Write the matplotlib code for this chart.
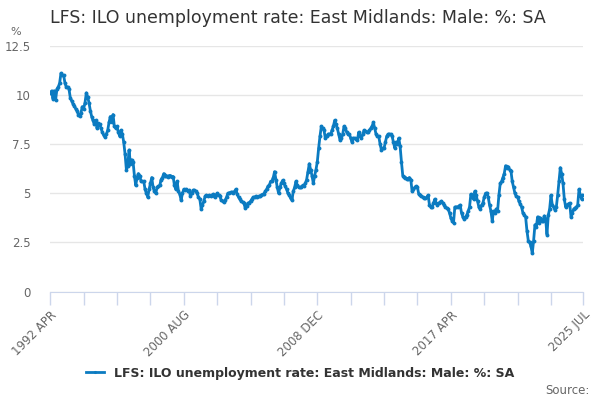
import numpy as np
import pandas as pd
import matplotlib
matplotlib.use("Agg")
import matplotlib.pyplot as plt

# monthly values, one list per calendar year (1992 starts in April, 2025 ends in July)
y1992 = [10.1, 10.2, 9.8, 10.2, 9.75, 10.3, 10.4, 10.6, 11.1]
y1993 = [11.0, 11.0, 10.6, 10.4, 10.4, 10.3, 9.85, 9.7, 9.55, 9.45, 9.3, 9.2]
y1994 = [9.0, 8.95, 9.1, 9.4, 9.3, 9.6, 10.1, 9.9, 9.6, 9.2, 8.9, 8.7]
y1995 = [8.5, 8.7, 8.3, 8.55, 8.5, 8.3, 8.1, 7.95, 7.85, 8.0, 8.2, 8.6]
y1996 = [8.9, 8.6, 9.0, 8.4, 8.3, 8.4, 8.1, 7.9, 8.2, 8.0, 7.6, 7.0]
y1997 = [6.2, 6.4, 7.2, 6.5, 6.7, 6.6, 5.9, 5.4, 5.8, 6.0, 5.9, 5.6]
y1998 = [5.6, 5.6, 5.2, 5.0, 4.8, 5.2, 5.5, 5.8, 5.3, 5.1, 5.0, 5.3]
y1999 = [5.35, 5.4, 5.7, 5.8, 6.0, 5.9, 5.9, 5.85, 5.9, 5.9, 5.85, 5.85]
y2000 = [5.4, 5.2, 5.6, 5.1, 4.95, 4.65, 5.0, 5.2, 5.15, 5.2, 5.1, 5.15]
y2001 = [4.85, 5.0, 5.15, 5.15, 5.1, 5.0, 4.8, 4.7, 4.2, 4.4, 4.6, 4.85]
y2002 = [4.9, 4.85, 4.9, 4.85, 4.9, 4.95, 4.8, 4.9, 5.0, 4.9, 4.85, 4.65]
y2003 = [4.6, 4.55, 4.65, 4.8, 5.0, 5.0, 5.05, 5.05, 5.0, 5.1, 5.2, 4.95]
y2004 = [4.8, 4.7, 4.6, 4.55, 4.5, 4.25, 4.35, 4.5, 4.5, 4.6, 4.7, 4.8]
y2005 = [4.8, 4.85, 4.8, 4.85, 4.85, 4.9, 4.95, 4.95, 5.1, 5.2, 5.35, 5.4]
y2006 = [5.6, 5.6, 5.8, 6.1, 5.7, 5.3, 5.0, 5.3, 5.5, 5.65, 5.5, 5.35]
y2007 = [5.2, 5.0, 4.9, 4.75, 4.65, 5.1, 5.3, 5.6, 5.4, 5.3, 5.3, 5.3]
y2008 = [5.4, 5.35, 5.5, 5.7, 6.1, 6.5, 6.2, 5.9, 5.5, 5.9, 6.2, 6.6]
y2009 = [7.3, 7.9, 8.4, 8.3, 8.2, 7.8, 7.9, 8.0, 8.0, 8.0, 8.2, 8.4]
y2010 = [8.7, 8.5, 8.3, 8.0, 7.7, 7.8, 8.0, 8.4, 8.3, 8.1, 8.0, 8.0]
y2011 = [7.8, 7.6, 7.8, 7.8, 7.75, 7.7, 8.1, 7.9, 7.8, 8.0, 8.2, 8.15]
y2012 = [8.1, 8.1, 8.2, 8.3, 8.4, 8.6, 8.3, 8.0, 7.9, 7.9, 7.5, 7.2]
y2013 = [7.3, 7.3, 7.6, 7.9, 8.0, 8.0, 8.0, 7.9, 7.6, 7.3, 7.6, 7.5]
y2014 = [7.8, 7.4, 6.6, 5.9, 5.85, 5.8, 5.75, 5.75, 5.8, 5.7, 5.1, 5.2]
y2015 = [5.3, 5.35, 5.3, 4.95, 4.9, 4.85, 4.8, 4.75, 4.75, 4.8, 4.9, 4.4]
y2016 = [4.3, 4.3, 4.5, 4.7, 4.5, 4.4, 4.5, 4.55, 4.6, 4.5, 4.4, 4.3]
y2017 = [4.25, 4.2, 4.0, 3.75, 3.6, 3.5, 4.3, 4.3, 4.3, 4.35, 4.4, 4.0]
y2018 = [3.8, 3.7, 3.8, 3.9, 4.1, 4.3, 4.95, 4.8, 4.7, 5.1, 4.9, 4.6]
y2019 = [4.3, 4.2, 4.4, 4.5, 4.8, 5.0, 5.0, 4.8, 4.4, 4.1, 3.6, 4.1]
y2020 = [4.0, 4.2, 4.1, 4.9, 5.5, 5.6, 5.8, 6.0, 6.4, 6.3, 6.35, 6.2]
y2021 = [6.15, 5.6, 5.3, 5.0, 4.85, 4.8, 4.6, 4.45, 4.3, 4.0, 3.9, 3.8]
y2022 = [3.1, 2.6, 2.5, 2.3, 1.95, 2.6, 3.4, 3.3, 3.8, 3.5, 3.75, 3.6]
y2023 = [3.6, 3.85, 3.7, 2.9, 3.9, 4.2, 4.9, 4.4, 4.3, 4.15, 4.3, 4.9]
y2024 = [5.6, 6.3, 6.0, 5.5, 4.7, 4.3, 4.4, 4.45, 4.5, 3.8, 4.0, 4.2]
y2025 = [4.25, 4.3, 4.4, 5.2, 4.9, 4.7, 4.9]

years = [y1992, y1993, y1994, y1995, y1996, y1997, y1998, y1999, y2000,
         y2001, y2002, y2003, y2004, y2005, y2006, y2007, y2008, y2009,
         y2010, y2011, y2012, y2013, y2014, y2015, y2016, y2017, y2018,
         y2019, y2020, y2021, y2022, y2023, y2024, y2025]
values = [v for yr in years for v in yr]

months = pd.period_range("1992-04", "2025-07", freq="M")
labels = [f"{p.year} {p.strftime('%b').upper()}" for p in months]

title = "LFS: ILO unemployment rate: East Midlands: Male: %: SA"
series_name = "LFS: ILO unemployment rate: East Midlands: Male: %: SA"

line_col = "#0b7bc1"
grid_col = "#e6e6e6"
axis_col = "#ccd6eb"
text_col = "#666666"

fig = plt.figure(figsize=(6, 4), dpi=100)
ax = fig.add_axes([0.0838, 0.2708, 0.8879, 0.615])

x = np.arange(len(values))
ax.plot(x, values, color=line_col, lw=2, marker="o", ms=2.8,
        markeredgewidth=0, label=series_name)

ax.set_xlim(0, len(values) - 1)
ax.set_ylim(0, 12.5)
ax.set_yticks([0, 2.5, 5, 7.5, 10, 12.5])
ax.set_yticklabels(["0", "2.5", "5", "7.5", "10", "12.5"])
ax.grid(axis="y", color=grid_col, lw=1)
ax.set_axisbelow(True)

ticks = list(range(0, len(values), 25)) + [len(values) - 1]
ax.set_xticks(ticks)
ax.set_xticklabels([labels[t] if t % 100 == 0 or t == len(values) - 1 else ""
                    for t in ticks], rotation=45, ha="right",
                   rotation_mode="anchor")

for s in ["top", "right", "left"]:
    ax.spines[s].set_visible(False)
ax.spines["bottom"].set_color(axis_col)
ax.tick_params(axis="x", colors=axis_col, length=9, width=1,
               labelcolor=text_col, labelsize=8.5, pad=3)
ax.tick_params(axis="y", length=0, labelcolor=text_col, labelsize=8.5, pad=14)

fig.text(0.083, 0.955, title, fontsize=12.5, color="#333333", va="center")
fig.text(0.017, 0.92, "%", fontsize=8, color=text_col, va="center")

leg = fig.legend(loc="center", bbox_to_anchor=(0.5, 0.067), frameon=False,
                 prop={"size": 9, "weight": "bold"}, handlelength=1.4,
                 markerscale=0.8)
for t in leg.get_texts():
    t.set_color("#333333")

fig.text(0.982, 0.025, "Source:", fontsize=8.5, color=text_col,
         ha="right", va="center")

fig.savefig("out.png", dpi=100)
